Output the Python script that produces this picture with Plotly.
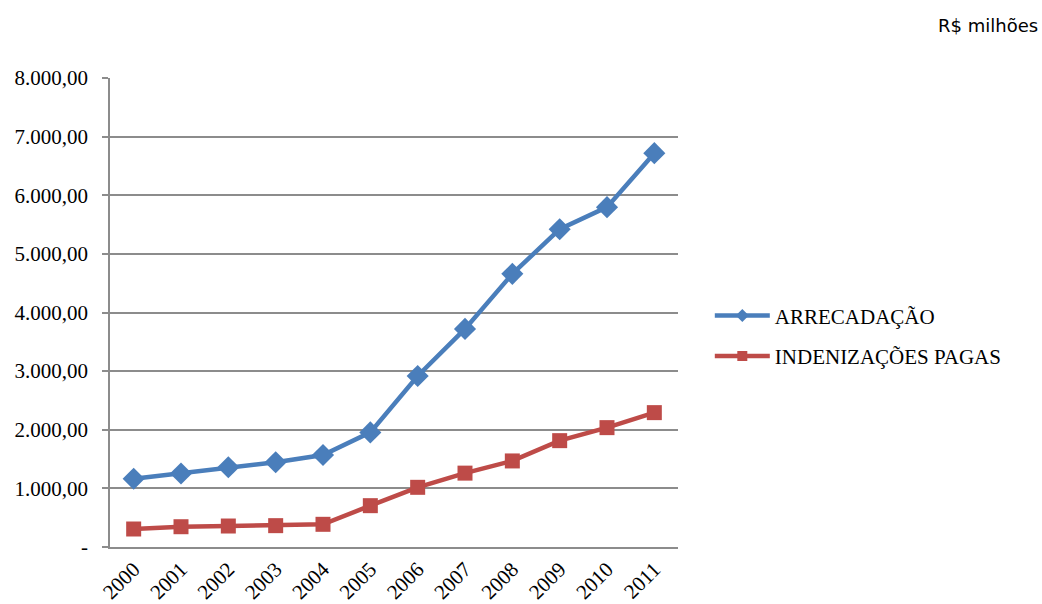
import plotly.graph_objects as go

years = ["2000", "2001", "2002", "2003", "2004", "2005", "2006", "2007", "2008", "2009", "2010", "2011"]
arrecadacao = [1165, 1255, 1360, 1445, 1570, 1955, 2918, 3720, 4659, 5421, 5797, 6718]
indenizacoes = [307, 346, 358, 364, 387, 705, 1018, 1260, 1468, 1814, 2036, 2292]
y_tickvals = [0, 1000, 2000, 3000, 4000, 5000, 6000, 7000, 8000]
y_ticktext = ["-", "1.000,00", "2.000,00", "3.000,00", "4.000,00", "5.000,00", "6.000,00", "7.000,00", "8.000,00"]

BLUE = "#4A7EBB"
RED = "#BE4B48"
serif = "Liberation Serif, Times New Roman, serif"

fig = go.Figure()
fig.add_trace(go.Scatter(
    x=years, y=arrecadacao, name="ARRECADAÇÃO", mode="lines+markers",
    line=dict(color=BLUE, width=4.5),
    marker=dict(symbol="diamond", size=17, color=BLUE),
    showlegend=False,
))
fig.add_trace(go.Scatter(
    x=years, y=indenizacoes, name="INDENIZAÇÕES PAGAS", mode="lines+markers",
    line=dict(color=RED, width=4.5),
    marker=dict(symbol="square", size=15, color=RED),
    showlegend=False,
))
# legend entries with smaller markers, as in the reference
fig.add_trace(go.Scatter(
    x=[None], y=[None], name="ARRECADAÇÃO", mode="lines+markers", legendgroup="a",
    line=dict(color=BLUE, width=4.5),
    marker=dict(symbol="diamond", size=10, color=BLUE),
))
fig.add_trace(go.Scatter(
    x=[None], y=[None], name="INDENIZAÇÕES PAGAS", mode="lines+markers", legendgroup="b",
    line=dict(color=RED, width=4.5),
    marker=dict(symbol="square", size=10, color=RED),
))

fig.update_layout(
    width=1042, height=604,
    margin=dict(l=110, r=364, t=78, b=57, autoexpand=False),
    paper_bgcolor="white", plot_bgcolor="white",
    font=dict(family=serif, size=21, color="black"),
    showlegend=True,
    legend=dict(
        x=1.056, y=0.45, xanchor="left", yanchor="middle",
        font=dict(family=serif, size=21, color="black"),
        itemwidth=55, tracegroupgap=10,
        bgcolor="rgba(0,0,0,0)",
    ),
    xaxis=dict(
        type="category", range=[-0.5, 11.5], automargin=False,
        showgrid=False, showline=True, linecolor="#8C8C8C", linewidth=1.5,
        ticks="", tickangle=-45, tickfont=dict(family=serif, size=21, color="black"),
        zeroline=False,
    ),
    yaxis=dict(
        range=[0, 8000], tickvals=y_tickvals, ticktext=y_ticktext, automargin=False,
        showgrid=True, gridcolor="#8C8C8C", gridwidth=1.5,
        showline=True, linecolor="#8C8C8C", linewidth=1.5,
        ticks="outside", ticklen=6, tickcolor="#8C8C8C", tickwidth=1.5,
        tickfont=dict(family=serif, size=21, color="black"),
        zeroline=False, ticklabelstandoff=10,
    ),
    annotations=[dict(
        text="R$ milhões", xref="paper", yref="paper", x=1.0, y=1.0,
        xshift=364 - 2, yshift=78 - 25, xanchor="right", yanchor="middle",
        showarrow=False, font=dict(family="DejaVu Sans, sans-serif", size=18, color="black"),
    )],
)

fig.write_html(
    "out.html",
    config={"displayModeBar": False},
    post_script="document.body.style.margin='0';document.body.style.overflow='hidden';",
)
